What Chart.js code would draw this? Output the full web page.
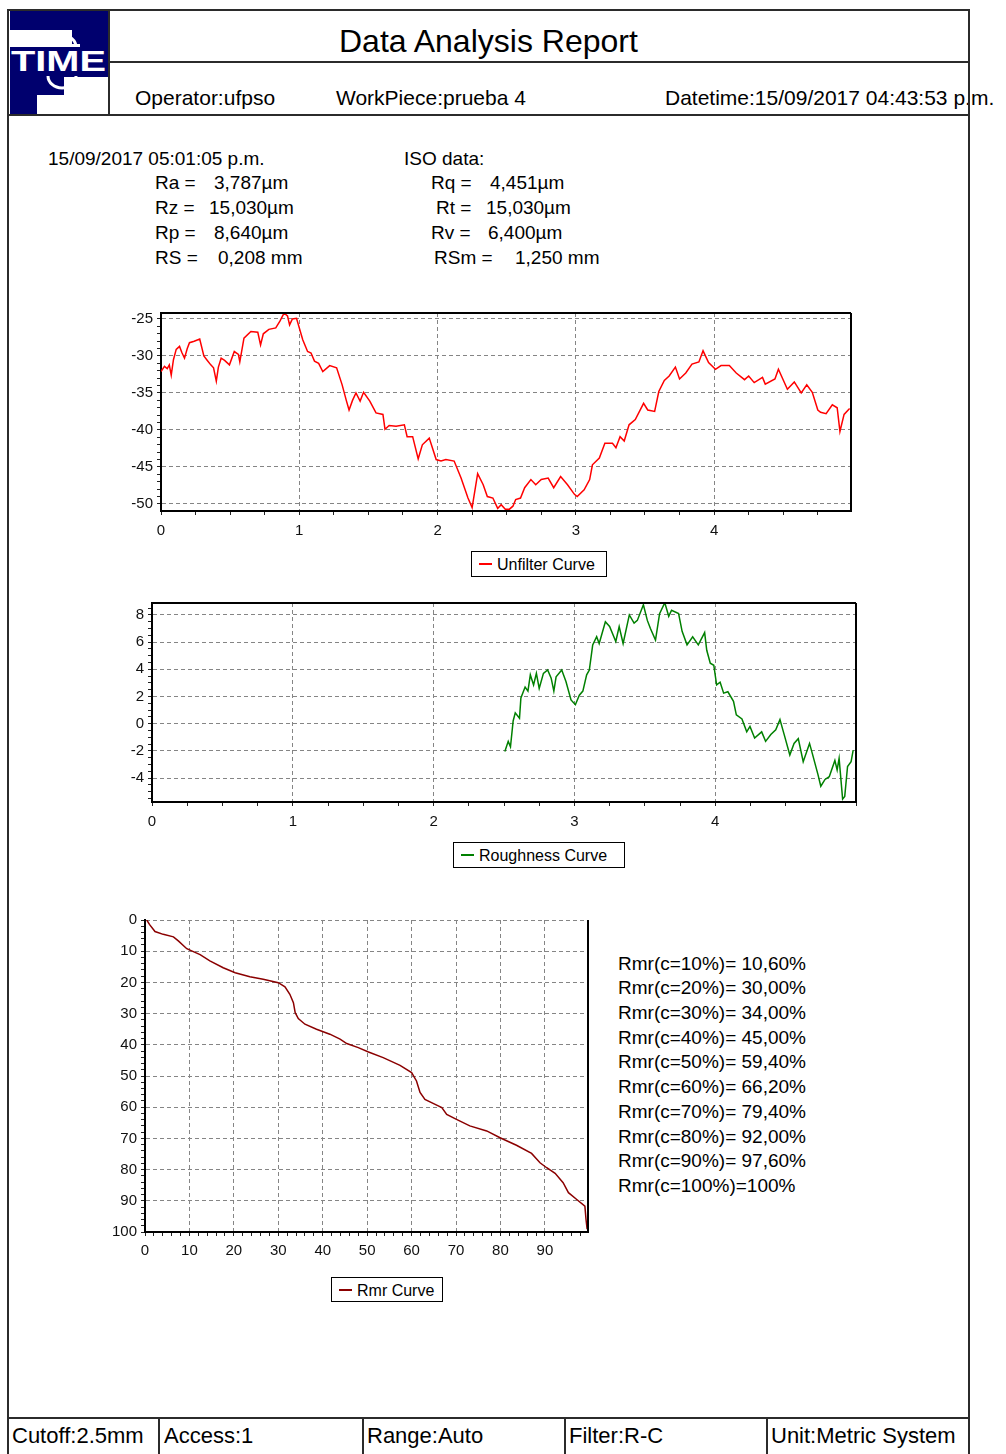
<!DOCTYPE html>
<html>
<head>
<meta charset="utf-8">
<title>Data Analysis Report</title>
<script src="https://cdn.jsdelivr.net/npm/chart.js@4.4.0/dist/chart.umd.min.js"></script>
<style>
body{margin:0;background:#fff;font-family:"Liberation Sans",Arial,sans-serif;color:#000;}
#page{position:relative;width:1006px;height:1454px;overflow:hidden;background:#fff;}
.t{position:absolute;white-space:nowrap;line-height:1;}
.ln{position:absolute;background:#2b2b2b;z-index:5;}
.cw{position:absolute;}
.lg{position:absolute;border:1px solid #000;box-sizing:border-box;font-size:16px;line-height:1;}
.lg i{position:absolute;height:2px;width:13px;left:7px;top:11px;}
.lg span{position:absolute;left:25px;top:5px;white-space:nowrap;}
</style>
</head>
<body>
<div id="page">
  <!-- frame lines -->
  <div class="ln" style="left:8px;top:9px;width:962px;height:2px"></div>
  <div class="ln" style="left:7px;top:9px;width:2px;height:1445px"></div>
  <div class="ln" style="left:968px;top:9px;width:2px;height:1445px"></div>
  <div class="ln" style="left:108px;top:9px;width:2px;height:106px"></div>
  <div class="ln" style="left:109px;top:61px;width:860px;height:2px"></div>
  <div class="ln" style="left:8px;top:114px;width:961px;height:2px"></div>
  <div class="ln" style="left:8px;top:1417px;width:961px;height:2px"></div>
  <div class="ln" style="left:158px;top:1417px;width:2px;height:37px"></div>
  <div class="ln" style="left:362px;top:1417px;width:2px;height:37px"></div>
  <div class="ln" style="left:564px;top:1417px;width:2px;height:37px"></div>
  <div class="ln" style="left:766px;top:1417px;width:2px;height:37px"></div>

  <!-- logo -->
  <svg width="101" height="104" viewBox="0 0 101 104" style="position:absolute;left:8px;top:10px">
    <rect x="2" y="0" width="62" height="20" fill="#00006e"/>
    <rect x="64" y="0" width="8" height="34" fill="#00006e"/>
    <rect x="72" y="0" width="29" height="37" fill="#00006e"/>
    <rect x="2" y="37" width="99" height="30" fill="#00006e"/>
    <rect x="2" y="67" width="27" height="37" fill="#00006e"/>
    <rect x="29" y="67" width="27" height="18" fill="#00006e"/>
    <path d="M40 37 A14 12 0 0 1 68 37" fill="none" stroke="#fff" stroke-width="3"/>
    <path d="M40 66 A14 12 0 0 0 68 66" fill="none" stroke="#fff" stroke-width="3"/>
    <text x="3" y="61" textLength="95" lengthAdjust="spacingAndGlyphs" font-family="Liberation Sans, Arial" font-weight="bold" font-size="29" fill="#fff">TIME</text>
  </svg>

  <div class="t" style="left:339px;top:25px;font-size:32px">Data Analysis Report</div>
  <div class="t" style="left:135px;top:87px;font-size:21px">Operator:ufpso</div>
  <div class="t" style="left:336px;top:87px;font-size:21px">WorkPiece:prueba 4</div>
  <div class="t" style="left:665px;top:87px;font-size:21px">Datetime:15/09/2017 04:43:53 p.m.</div>

  <div class="cw" style="left:100px;top:300px;width:770px;height:245px"><canvas id="c1"></canvas></div>
  <div class="cw" style="left:90px;top:590px;width:780px;height:245px"><canvas id="c2"></canvas></div>
  <div class="cw" style="left:90px;top:905px;width:510px;height:360px"><canvas id="c3"></canvas></div>

  <div id="lg1" class="lg" style="left:471px;top:551px;width:136px;height:26px"></div>
  <div id="lg2" class="lg" style="left:453px;top:842px;width:172px;height:26px"></div>
  <div id="lg3" class="lg" style="left:331px;top:1277px;width:112px;height:25px"></div>

  <div class="t" style="left:12px;top:1425px;font-size:22px">Cutoff:2.5mm</div>
  <div class="t" style="left:164px;top:1425px;font-size:22px">Access:1</div>
  <div class="t" style="left:367px;top:1425px;font-size:22px">Range:Auto</div>
  <div class="t" style="left:569px;top:1425px;font-size:22px">Filter:R-C</div>
  <div class="t" style="left:771px;top:1425px;font-size:22px">Unit:Metric System</div>
</div>

<script>
// unfiltered profile (mm, µm)
const unfilterX = [0, 0.025, 0.045, 0.06, 0.074, 0.09, 0.11, 0.134, 0.15, 0.17, 0.19, 0.206, 0.24, 0.28, 0.31, 0.335, 0.36, 0.38, 0.40, 0.415, 0.435, 0.46, 0.495, 0.53, 0.56, 0.57, 0.60, 0.65, 0.70, 0.72, 0.74, 0.78, 0.83, 0.86, 0.89, 0.915, 0.93, 0.95, 0.98, 1.025, 1.06, 1.085, 1.11, 1.14, 1.17, 1.22, 1.27, 1.31, 1.34, 1.36, 1.385, 1.41, 1.44, 1.465, 1.51, 1.555, 1.605, 1.62, 1.65, 1.70, 1.76, 1.78, 1.82, 1.86, 1.89, 1.94, 1.99, 2.025, 2.06, 2.12, 2.17, 2.22, 2.25, 2.29, 2.33, 2.36, 2.40, 2.435, 2.46, 2.49, 2.52, 2.545, 2.565, 2.60, 2.63, 2.675, 2.71, 2.75, 2.80, 2.84, 2.89, 2.94, 2.99, 3.01, 3.06, 3.10, 3.12, 3.17, 3.21, 3.265, 3.29, 3.32, 3.35, 3.385, 3.43, 3.49, 3.52, 3.57, 3.60, 3.64, 3.675, 3.72, 3.75, 3.795, 3.84, 3.89, 3.92, 3.96, 4.01, 4.05, 4.11, 4.16, 4.22, 4.25, 4.29, 4.35, 4.37, 4.44, 4.465, 4.53, 4.58, 4.63, 4.67, 4.71, 4.75, 4.77, 4.81, 4.855, 4.89, 4.91, 4.94, 4.98];
const unfilterY = [-32.1, -31.4, -31.7, -31.2, -32.6, -30.5, -29.1, -28.7, -29.5, -30.3, -29.0, -28.2, -28.0, -27.7, -30.0, -30.6, -31.2, -31.6, -33.4, -31.5, -30.3, -30.6, -31.2, -29.4, -29.8, -30.8, -27.6, -26.7, -26.8, -28.5, -27.0, -26.4, -26.2, -25.3, -24.2, -24.6, -25.8, -25.0, -24.9, -27.8, -29.4, -29.6, -30.7, -31.0, -32.1, -31.3, -31.6, -33.9, -36.0, -37.3, -36.0, -35.0, -36.1, -34.9, -36.1, -37.7, -37.9, -39.9, -39.4, -39.5, -39.3, -40.9, -40.9, -43.9, -42.0, -41.1, -44.0, -44.2, -44.0, -44.2, -46.5, -49.2, -50.5, -45.9, -47.4, -49.0, -49.2, -50.6, -50.1, -50.7, -50.7, -50.3, -49.4, -49.2, -47.8, -46.7, -47.4, -46.7, -46.5, -47.8, -46.3, -47.4, -48.7, -49.0, -48.1, -46.7, -44.7, -43.8, -41.8, -41.8, -42.4, -40.9, -41.5, -39.3, -38.6, -36.4, -37.3, -37.5, -34.8, -33.3, -32.7, -31.5, -33.1, -32.3, -31.1, -30.8, -29.3, -30.9, -31.8, -31.3, -31.3, -32.3, -33.2, -32.7, -33.6, -32.9, -33.8, -33.1, -31.8, -34.5, -33.5, -35.0, -33.9, -34.9, -37.3, -37.6, -37.8, -36.6, -37.0, -40.2, -37.9, -37.1];

// roughness profile
const roughX = [2.506, 2.53, 2.546, 2.565, 2.58, 2.61, 2.62, 2.65, 2.67, 2.687, 2.71, 2.73, 2.75, 2.78, 2.81, 2.835, 2.854, 2.87, 2.91, 2.94, 2.976, 3.007, 3.035, 3.06, 3.087, 3.106, 3.13, 3.158, 3.176, 3.22, 3.25, 3.294, 3.318, 3.346, 3.39, 3.424, 3.447, 3.49, 3.518, 3.54, 3.576, 3.605, 3.642, 3.67, 3.69, 3.74, 3.765, 3.8, 3.84, 3.88, 3.925, 3.94, 3.965, 3.99, 4.01, 4.035, 4.06, 4.09, 4.13, 4.15, 4.19, 4.224, 4.247, 4.28, 4.33, 4.358, 4.395, 4.43, 4.46, 4.49, 4.53, 4.56, 4.59, 4.625, 4.67, 4.69, 4.73, 4.75, 4.78, 4.81, 4.85, 4.866, 4.88, 4.905, 4.92, 4.94, 4.965, 4.98];
const roughY = [-2.05, -1.3, -1.7, 0.2, 0.8, 0.4, 1.9, 2.7, 2.4, 3.6, 2.85, 3.7, 2.6, 3.7, 3.95, 3.35, 2.4, 3.45, 3.95, 3.1, 1.75, 1.4, 2.1, 2.4, 3.6, 3.95, 5.8, 6.4, 5.9, 7.5, 7.15, 6.05, 7.15, 5.9, 8.0, 7.4, 7.6, 8.75, 7.6, 7.0, 6.15, 8.1, 8.9, 7.9, 8.35, 8.1, 6.8, 5.8, 6.4, 5.8, 6.7, 5.4, 4.45, 4.3, 2.85, 3.05, 2.25, 2.35, 1.65, 0.65, 0.35, -0.6, -0.2, -1.05, -0.6, -1.3, -0.8, -0.45, 0.3, -0.8, -2.3, -1.45, -1.1, -2.8, -1.45, -2.2, -3.75, -4.6, -4.1, -3.9, -2.7, -3.4, -2.55, -5.55, -5.35, -3.15, -2.8, -1.95];

// material ratio curve (%, depth %)
const rmrX = [0.4, 1.0, 2.25, 4.1, 6.4, 7.5, 9.4, 10.5, 12.4, 14.6, 17.6, 20.3, 23.6, 26.6, 30.0, 31.5, 32.6, 33.4, 33.8, 34.5, 36.0, 38.6, 41.6, 43.9, 45.4, 48.0, 50.3, 53.6, 57.4, 60.0, 61.1, 61.9, 63.0, 65.3, 66.8, 67.9, 70.1, 73.1, 76.9, 79.9, 83.6, 87.0, 88.9, 90.4, 92.3, 94.1, 95.3, 97.1, 99.0, 99.25, 99.5];
const rmrY = [0, 1.4, 3.7, 4.6, 5.4, 6.7, 9.2, 9.9, 11.1, 13.1, 15.3, 16.9, 18.2, 19.0, 20.1, 21.4, 23.8, 26.5, 29.7, 31.6, 33.4, 35.0, 36.6, 38.2, 39.6, 40.9, 42.3, 44.1, 46.6, 48.9, 51.6, 55.3, 57.5, 59.1, 60.1, 62.3, 63.9, 66.0, 67.6, 69.8, 72.2, 74.8, 77.8, 79.4, 81.2, 84.2, 87.4, 89.5, 91.7, 95.9, 99.1];

// tick labels
const profileXTicks = [0, 1, 2, 3, 4];
const unfilterYTicks = [-50, -45, -40, -35, -30, -25];
const roughYTicks = [-4, -2, 0, 2, 4, 6, 8];
const rmrXTicks = [0, 10, 20, 30, 40, 50, 60, 70, 80, 90];
const rmrYTicks = [0, 10, 20, 30, 40, 50, 60, 70, 80, 90, 100];

const rmrLabels = ['Rmr(c=10%)= 10,60%', 'Rmr(c=20%)= 30,00%', 'Rmr(c=30%)= 34,00%', 'Rmr(c=40%)= 45,00%', 'Rmr(c=50%)= 59,40%',
  'Rmr(c=60%)= 66,20%', 'Rmr(c=70%)= 79,40%', 'Rmr(c=80%)= 92,00%', 'Rmr(c=90%)= 97,60%', 'Rmr(c=100%)=100%'];

// header numbers
const info = [
  ['15/09/2017 05:01:05 p.m.', 48, 158], ['ISO data:', 404, 158],
  ['Ra =', 155, 182], ['3,787µm', 214, 182], ['Rq =', 431, 182], ['4,451µm', 490, 182],
  ['Rz =', 155, 207], ['15,030µm', 209, 207], ['Rt =', 436, 207], ['15,030µm', 486, 207],
  ['Rp =', 155, 232], ['8,640µm', 214, 232], ['Rv =', 431, 232], ['6,400µm', 488, 232],
  ['RS =', 155, 257], ['0,208 mm', 218, 257], ['RSm =', 434, 257], ['1,250 mm', 515, 257]
];

const page = document.getElementById('page');
const addText = (txt, x, cy, size) => {
  const d = document.createElement('div');
  d.className = 't';
  d.style.left = x + 'px';
  d.style.top = (cy - size * 0.49) + 'px';
  d.style.fontSize = size + 'px';
  d.textContent = txt;
  page.appendChild(d);
};
info.forEach(r => addText(r[0], r[1], r[2], 19));
rmrLabels.forEach((s, i) => addText(s, 618, 963 + i * 24.7, 19));

Chart.defaults.font.family = '"Liberation Sans", Arial, sans-serif';

const near = (v, list) => list.find(m => Math.abs(m - v) < 1e-6);

// draws the top / right edges of the plot box
const boxPlugin = {
  id: 'box',
  afterDraw(chart, args, opts) {
    const {ctx, chartArea: a} = chart;
    ctx.save();
    ctx.strokeStyle = '#000';
    ctx.lineWidth = 2;
    ctx.beginPath();
    if (opts.top) { ctx.moveTo(a.left, a.top); ctx.lineTo(a.right, a.top); }
    ctx.moveTo(a.right, a.top); ctx.lineTo(a.right, a.bottom);
    ctx.stroke();
    ctx.restore();
  }
};

const axis = (o) => ({
  type: 'linear',
  min: o.min,
  max: o.max,
  reverse: !!o.reverse,
  afterFit: s => { if (o.width) s.width = o.width; if (o.height) s.height = o.height; },
  ticks: {
    stepSize: o.step,
    includeBounds: false,
    autoSkip: false,
    maxRotation: 0,
    padding: o.pad,
    color: '#111',
    font: {size: 15},
    callback: v => { const m = near(v, o.major); return m === undefined ? '' : String(m); }
  },
  grid: {
    color: c => (c.tick && near(c.tick.value, o.major) !== undefined) ? '#858585' : 'rgba(0,0,0,0)',
    lineWidth: 1,
    tickColor: '#222',
    tickLength: 4,
    tickWidth: 1
  },
  border: {color: '#000', width: 2, dash: [4, 3]}
});

const makeChart = (id, xs, ys, label, color, xOpt, yOpt, pad, top) => {
  return new Chart(document.getElementById(id), {
    type: 'line',
    data: {
      datasets: [{
        label: label,
        data: xs.map((x, i) => ({x: x, y: ys[i]})),
        borderColor: color,
        borderWidth: 1.5,
        pointRadius: 0,
        tension: 0,
        fill: false
      }]
    },
    options: {
      responsive: true,
      maintainAspectRatio: false,
      animation: false,
      layout: {padding: pad},
      plugins: {legend: {display: false}, tooltip: {enabled: false}, box: {top: top}},
      scales: {x: axis(xOpt), y: axis(yOpt)}
    },
    plugins: [boxPlugin]
  });
};

const legendBox = (id, chart) => {
  const ds = chart.data.datasets[0];
  const el = document.getElementById(id);
  el.innerHTML = '<i style="background:' + ds.borderColor + '"></i><span>' + ds.label + '</span>';
};

const c1 = makeChart('c1', unfilterX, unfilterY, 'Unfilter Curve', '#ff0000',
  {min: 0, max: 4.99, step: 0.25, major: profileXTicks, height: 34, pad: 7},
  {min: -50.95, max: -24.19, step: 1, major: unfilterYTicks, width: 61, pad: 4},
  {top: 13, right: 19, left: 0, bottom: 0}, true);

const c2 = makeChart('c2', roughX, roughY, 'Roughness Curve', '#008000',
  {min: 0, max: 5.0, step: 0.25, major: profileXTicks, height: 33, pad: 7},
  {min: -5.76, max: 8.88, step: 0.5, major: roughYTicks, width: 62, pad: 4},
  {top: 12, right: 14, left: 0, bottom: 0}, true);

const c3 = makeChart('c3', rmrX, rmrY, 'Rmr Curve', '#8b0000',
  {min: 0, max: 99.7, step: 2, major: rmrXTicks, height: 33, pad: 6},
  {min: 0, max: 100, step: 2, major: rmrYTicks, width: 55, pad: 4, reverse: true},
  {top: 15, right: 12, left: 0, bottom: 0}, false);

legendBox('lg1', c1);
legendBox('lg2', c2);
legendBox('lg3', c3);
</script>
</body>
</html>
